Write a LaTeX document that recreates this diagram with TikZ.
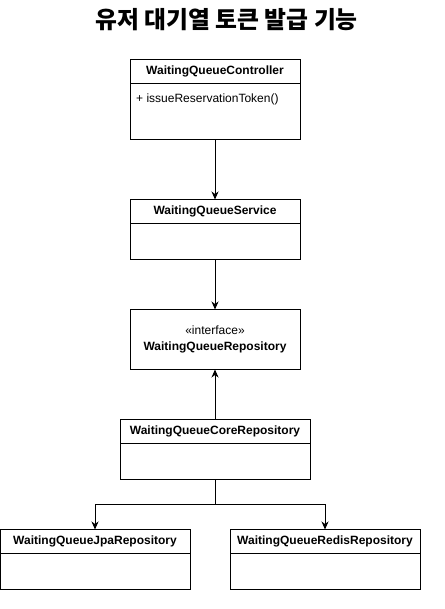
\documentclass[tikz,border=0pt]{standalone}
\usepackage{fontspec}
\setmainfont{Liberation Sans}
\newfontfamily\krfont{Noto Sans CJK KR}
\usetikzlibrary{positioning,arrows.meta}

\tikzset{
  classhead/.style={draw, line width=1pt, outer sep=0pt, inner sep=0pt,
    minimum width=#1, minimum height=24pt,
    font=\bfseries\fontsize{12}{14}\selectfont},
  classhead/.default=170pt,
  classbody/.style={draw, line width=1pt, outer sep=0pt, inner sep=0pt,
    minimum width=#1, minimum height=36pt},
  classbody/.default=170pt,
  member/.style={inner sep=0pt, font=\fontsize{12}{14}\selectfont},
  depends/.style={line width=1pt, -{Stealth[length=8pt,width=7pt,inset=2.5pt]}}
}

\begin{document}
\begin{tikzpicture}[x=1pt, y=-1pt]
  \fill[white] (0,0) rectangle (444,609);
  \useasboundingbox (0,0) rectangle (444,609);

  % title
  \node[font=\krfont\bfseries\fontsize{23.8}{28}\selectfont] (title) at (226.5,20)
    {유저 대기열 토큰 발급 기능};

  % controller
  \node[classhead, anchor=north] (ctrl) at (215,59.5) {WaitingQueueController};
  \node[classbody, minimum height=56pt, below=0pt of ctrl] (ctrlbody) {};
  \node[member, anchor=west] (ctrlop) at ([xshift=6pt,yshift=-16pt]ctrlbody.north west)
    {+ issueReservationToken()};

  % service
  \node[classhead, anchor=north] (svc) at (215,199.5) {WaitingQueueService};
  \node[classbody, below=0pt of svc] (svcbody) {};

  % interface
  \node[draw, line width=1pt, outer sep=0pt, minimum width=170pt, minimum height=60pt,
        anchor=north, align=center, font=\fontsize{12}{16.5}\selectfont] (repo) at (215,309.5)
    {«interface»\\\textbf{WaitingQueueRepository}};

  % core repository
  \node[classhead=190pt, anchor=north] (core) at (215,419.5) {WaitingQueueCoreRepository};
  \node[classbody=190pt, below=0pt of core] (corebody) {};

  % implementations
  \node[classhead=190pt, anchor=north] (jpa) at (95,529.5) {WaitingQueueJpaRepository};
  \node[classbody=190pt, below=0pt of jpa] (jpabody) {};
  \node[classhead=190pt, anchor=north] (redis) at (325,529.5) {WaitingQueueRedisRepository};
  \node[classbody=190pt, below=0pt of redis] (redisbody) {};

  % connectors
  \draw[depends] (ctrlbody.south) -- (svc.north);
  \draw[depends] (svcbody.south) -- (repo.north);
  \draw[depends] (core.north) -- (repo.south);
  \draw[depends] (corebody.south) -- ++(0,25) -| (jpa.north);
  \draw[depends] (corebody.south) -- ++(0,25) -| (redis.north);
\end{tikzpicture}
\end{document}
